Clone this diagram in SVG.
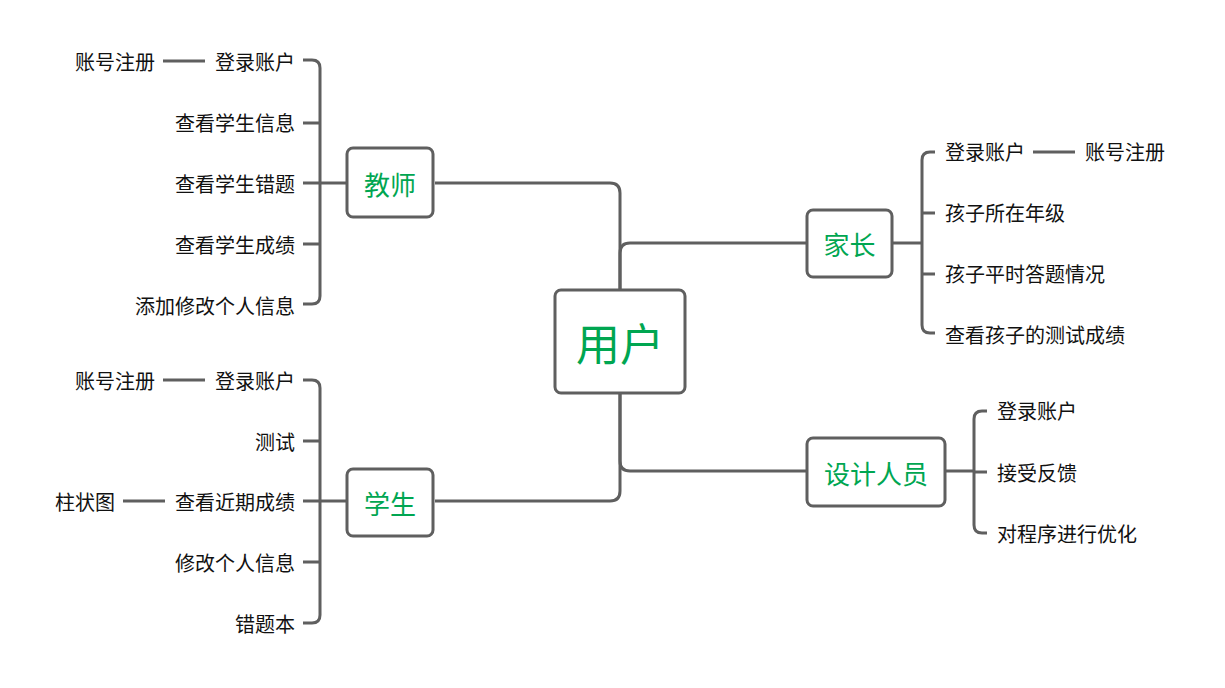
<svg xmlns="http://www.w3.org/2000/svg" width="1225" height="688" viewBox="0 0 1225 688">
<style>
.ln{fill:none;stroke:#5f5f5f;stroke-width:3;stroke-linecap:butt}
.box{fill:#fff;stroke:#5f5f5f;stroke-width:3}
.t{font-family:"Microsoft YaHei","Noto Sans CJK SC",sans-serif;font-size:20px;fill:#111;dominant-baseline:central}
.n{font-family:"Microsoft YaHei","Noto Sans CJK SC",sans-serif;font-size:26px;fill:#00a651;dominant-baseline:central;text-anchor:middle}
.e{text-anchor:end}
</style>
<rect width="1225" height="688" fill="#fff"/>
<g id="connectors">
<path class="ln" d="M435,183 H610 Q620,183 620,193 V290"/>
<path class="ln" d="M620,290 V253 Q620,243 630,243 H807"/>
<path class="ln" d="M620,393 V461 Q620,471 630,471 H807"/>
<path class="ln" d="M435,501 H610 Q620,501 620,491 V393"/>
<path class="ln" d="M347,183 H320"/>
<path class="ln" d="M303,60 H312 Q320,60 320,68 V296 Q320,304 312,304 H303"/>
<path class="ln" d="M303,123 H320 M303,183 H320 M303,244 H320"/>
<path class="ln" d="M163,61 H205"/>
<path class="ln" d="M347,501 H320"/>
<path class="ln" d="M303,380 H312 Q320,380 320,388 V615 Q320,623 312,623 H303"/>
<path class="ln" d="M303,441 H320 M303,501 H320 M303,562 H320"/>
<path class="ln" d="M163,380 H205"/>
<path class="ln" d="M123,501 H165"/>
<path class="ln" d="M892,243 H922"/>
<path class="ln" d="M935,152 H930 Q922,152 922,160 V325 Q922,333 930,333 H935"/>
<path class="ln" d="M922,213 H935 M922,274 H935"/>
<path class="ln" d="M1033,152 H1075"/>
<path class="ln" d="M945,471 H974"/>
<path class="ln" d="M987,411 H982 Q974,411 974,419 V525 Q974,533 982,533 H987"/>
<path class="ln" d="M974,472 H987"/>
</g>
<g id="user">
<rect class="box" x="555" y="290" width="130" height="103" rx="6"/>
<text class="n" x="620" y="342" style="font-size:44px">用户</text>
</g>
<g id="teacher">
<rect class="box" x="347" y="148" width="86" height="69" rx="6"/>
<text class="n" x="390" y="183">教师</text>
</g>
<g id="student">
<rect class="box" x="347" y="469" width="86" height="67" rx="6"/>
<text class="n" x="390" y="502">学生</text>
</g>
<g id="parent">
<rect class="box" x="807" y="210" width="85" height="67" rx="6"/>
<text class="n" x="849.500" y="243">家长</text>
</g>
<g id="designer">
<rect class="box" x="807" y="438" width="138" height="68" rx="6"/>
<text class="n" x="876" y="472">设计人员</text>
</g>
<g id="teacher-items">
<text class="t e" x="295" y="61">登录账户</text>
<text class="t e" x="155" y="61">账号注册</text>
<text class="t e" x="295" y="122">查看学生信息</text>
<text class="t e" x="295" y="183">查看学生错题</text>
<text class="t e" x="295" y="244">查看学生成绩</text>
<text class="t e" x="295" y="305">添加修改个人信息</text>
</g>
<g id="student-items">
<text class="t e" x="295" y="380">登录账户</text>
<text class="t e" x="155" y="380">账号注册</text>
<text class="t e" x="295" y="441">测试</text>
<text class="t e" x="295" y="501">查看近期成绩</text>
<text class="t e" x="115" y="501">柱状图</text>
<text class="t e" x="295" y="562">修改个人信息</text>
<text class="t e" x="295" y="623">错题本</text>
</g>
<g id="parent-items">
<text class="t" x="945" y="151">登录账户</text>
<text class="t" x="1085" y="151">账号注册</text>
<text class="t" x="945" y="212">孩子所在年级</text>
<text class="t" x="945" y="273">孩子平时答题情况</text>
<text class="t" x="945" y="334">查看孩子的测试成绩</text>
</g>
<g id="designer-items">
<text class="t" x="997" y="410">登录账户</text>
<text class="t" x="997" y="472">接受反馈</text>
<text class="t" x="997" y="533">对程序进行优化</text>
</g>
</svg>
